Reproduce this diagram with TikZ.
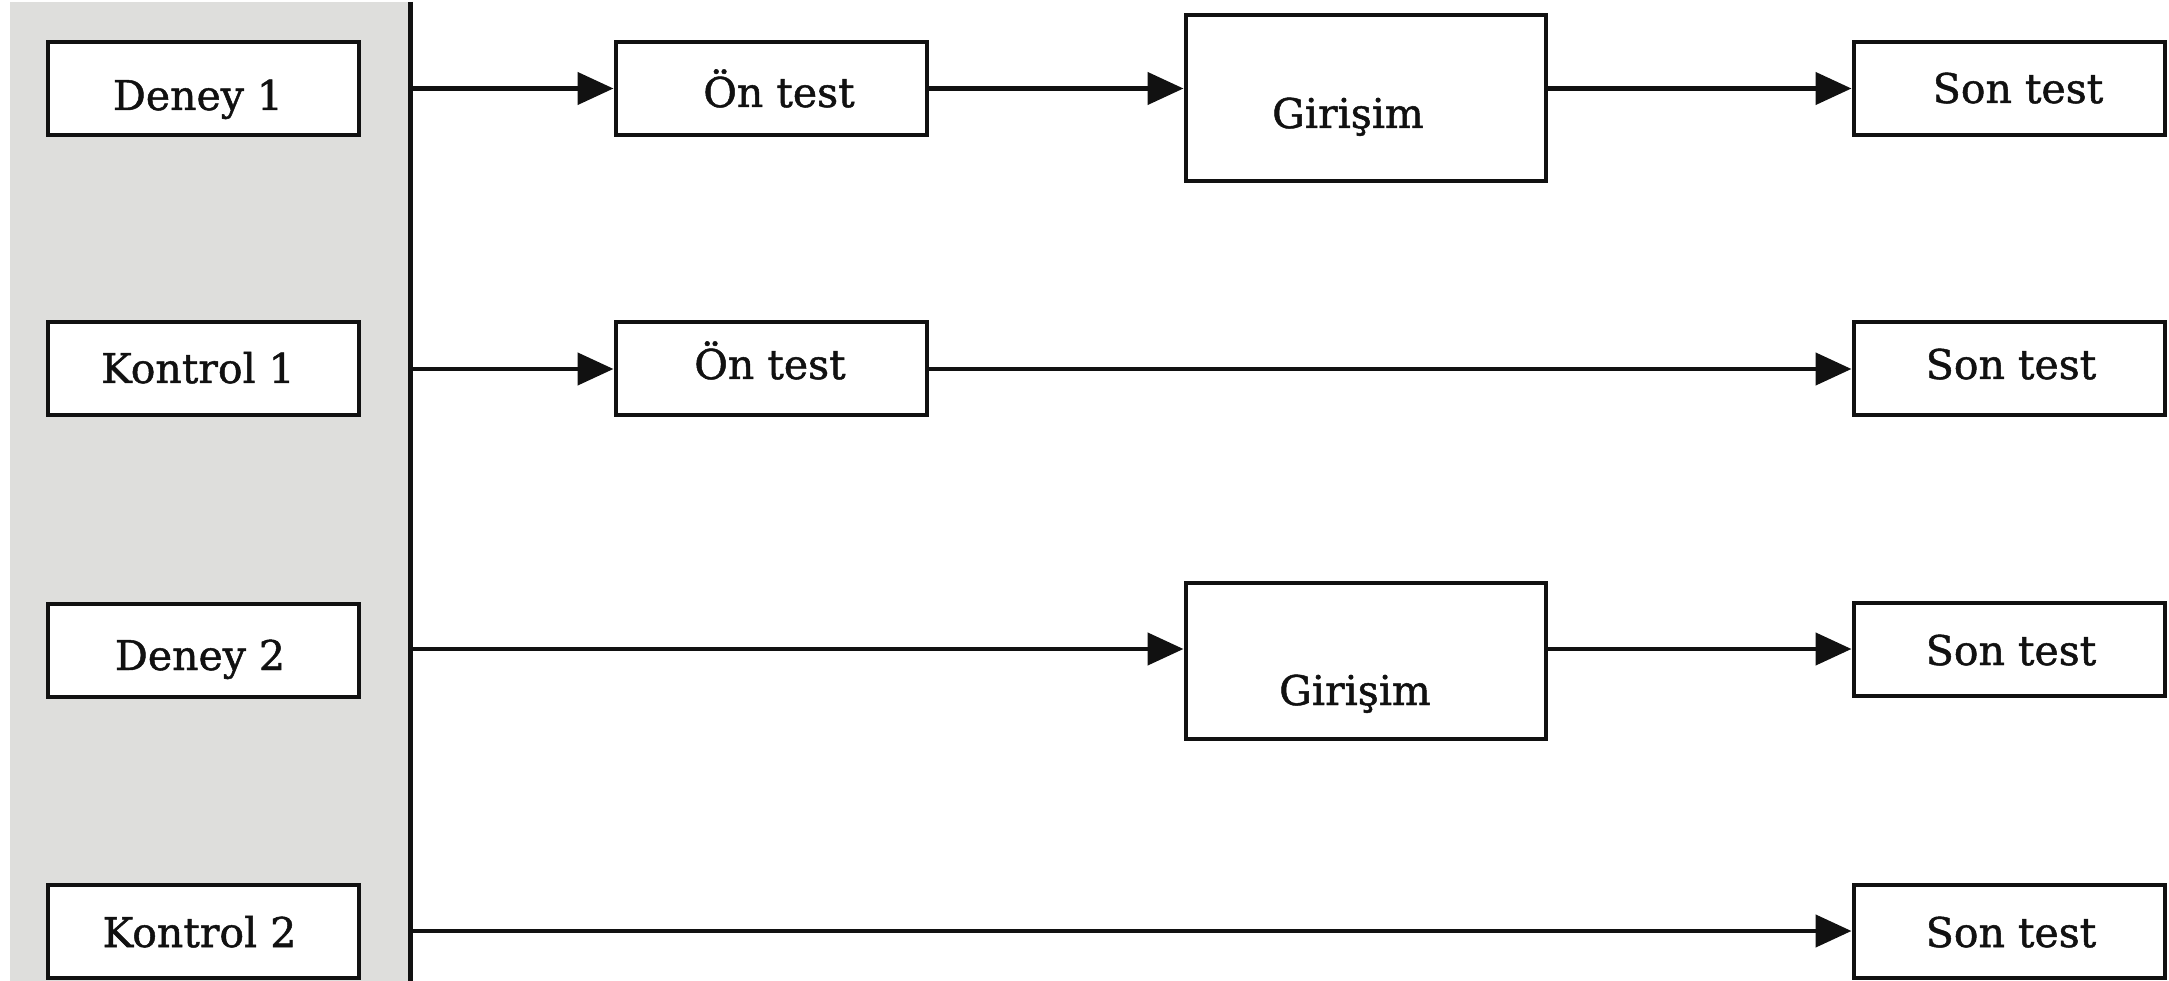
\documentclass[tikz,border=0pt]{standalone}
\usepackage{fontspec}
\setmainfont{DejaVu Serif}[FakeBold=1.2]
\usetikzlibrary{arrows.meta}

\definecolor{panelgray}{RGB}{222,222,220}
\definecolor{ink}{RGB}{17,17,17}

\tikzset{
  stepbox/.style={draw=ink, line width=4pt, fill=white, inner sep=0pt, rectangle},
  smallbox/.style={stepbox, minimum width=311pt, minimum height=93pt},
  bigbox/.style={stepbox, minimum width=360pt},
  lbl/.style={anchor=base, inner sep=0pt, text=ink,
              font=\fontsize{41pt}{49pt}\selectfont},
  flow/.style={draw=ink, line width=4.5pt,
               -{Triangle[length=36pt, width=32pt]}},
  spine/.style={draw=ink, line width=5pt}
}

\begin{document}
\begin{tikzpicture}[x=1pt, y=-1pt]
  \useasboundingbox (0,0) rectangle (2169,981);

  % shaded group panel and its vertical spine
  \fill[panelgray] (10,2) rectangle (410,981);
  \coordinate (top) at (410,2);
  \coordinate (bot) at (410,981);
  \draw[spine] (top) -- (bot);

  % group boxes
  \node[smallbox] (d1) at (203,88.5) {};
  \node[smallbox] (k1) at (203,369) {};
  \node[smallbox] (d2) at (203,650) {};
  \node[smallbox] (k2) at (203,931) {};

  % pre-tests
  \node[smallbox] (on1) at (771,88.5) {};
  \node[smallbox] (on2) at (771,369) {};

  % interventions
  \node[bigbox, minimum height=166pt] (g1) at (1365.5,98) {};
  \node[bigbox, minimum height=156pt] (g2) at (1365.5,661) {};

  % post-tests
  \node[smallbox] (son1) at (2009,88.5) {};
  \node[smallbox] (son2) at (2009,369) {};
  \node[smallbox] (son3) at (2009,649) {};
  \node[smallbox] (son4) at (2009,931) {};

  % labels
  \node[lbl] (t-d1) at (198,110) {Deney 1};
  \node[lbl] (t-k1) at (198,383) {Kontrol 1};
  \node[lbl] (t-d2) at (200,670) {Deney 2};
  \node[lbl] (t-k2) at (199.5,947) {Kontrol 2};
  \node[lbl] (t-on1) at (779,107) {Ön test};
  \node[lbl] (t-on2) at (770,379) {Ön test};
  \node[lbl] (t-g1) at (1348,128) {Girişim};
  \node[lbl] (t-g2) at (1355,705) {Girişim};
  \node[lbl] (t-son1) at (2018,103) {Son test};
  \node[lbl] (t-son2) at (2011,379) {Son test};
  \node[lbl] (t-son3) at (2011,665) {Son test};
  \node[lbl] (t-son4) at (2011,947) {Son test};

  % branch points on the spine
  \coordinate (s1) at (410,88.5);
  \coordinate (s2) at (410,369);
  \coordinate (s3) at (410,649);
  \coordinate (s4) at (410,931);

  % row 1: Deney 1
  \draw[flow] (s1) -- (on1);
  \draw[flow] (on1.east) -- (g1.west |- on1.east);
  \draw[flow] (g1.east |- son1.west) -- (son1.west);

  % row 2: Kontrol 1
  \draw[flow] (s2) -- (on2);
  \draw[flow] (on2.east) -- (son2.west);

  % row 3: Deney 2
  \draw[flow] (s3) -- (g2.west |- s3);
  \draw[flow] (g2.east |- son3.west) -- (son3.west);

  % row 4: Kontrol 2
  \draw[flow] (s4) -- (son4);
\end{tikzpicture}
\end{document}
